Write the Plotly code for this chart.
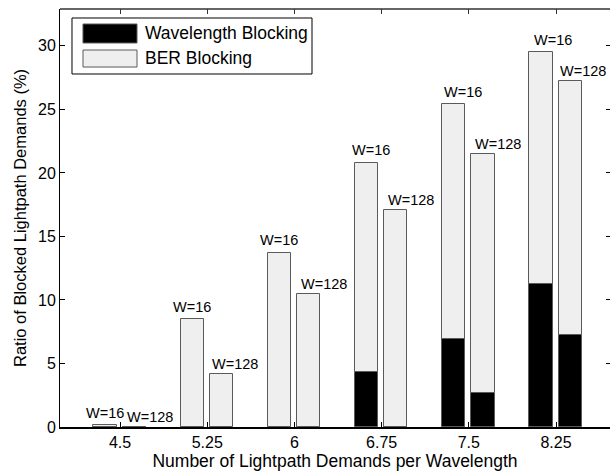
import plotly.graph_objects as go

# Demands per wavelength (x categories)
categories = ["4.5", "5.25", "6", "6.75", "7.5", "8.25"]

# Total blocking ratio (%) and the wavelength-blocking part, per W
total_w16 = [0.15, 8.48, 13.72, 20.8, 25.4, 29.5]
wl_w16 = [0.0, 0.0, 0.0, 4.33, 6.93, 11.24]
total_w128 = [0.0, 4.17, 10.45, 17.09, 21.52, 27.24]
wl_w128 = [0.0, 0.0, 0.0, 0.0, 2.65, 7.24]

series_names = ["Wavelength Blocking", "BER Blocking"]
bar_labels = ["W=16", "W=128"]

FONT = "Liberation Sans, Arial, Helvetica, sans-serif"
DARK = "#000000"
LIGHT = "#efefef"
EDGE = "#5a5a5a"

pos = list(range(1, len(categories) + 1))
BAR_W = 0.265
OFFSETS = [-0.305, 0.03]  # left edge of each bar relative to its category
X_RANGE = [0.312, 6.619]
Y_RANGE = [0, 32.9]
Y_TICKS = [0, 5, 10, 15, 20, 25, 30]

fig = go.Figure()

groups = [(total_w16, wl_w16), (total_w128, wl_w128)]
for k, (tot, wl) in enumerate(groups):
    ber = [t - w for t, w in zip(tot, wl)]
    fig.add_trace(go.Bar(
        x=pos, y=wl, base=[0] * len(wl), width=BAR_W, offset=OFFSETS[k],
        marker=dict(color=DARK, line=dict(color=EDGE, width=1)),
        name=series_names[0], showlegend=False,
    ))
    fig.add_trace(go.Bar(
        x=pos, y=ber, base=wl, width=BAR_W, offset=OFFSETS[k],
        marker=dict(color=LIGHT, line=dict(color=EDGE, width=1)),
        name=series_names[1], showlegend=False,
    ))

# empty trace so the top / right tick-only axes are rendered
fig.add_trace(go.Scatter(x=[None], y=[None], xaxis="x2", yaxis="y2",
                         showlegend=False, hoverinfo="skip"))

# "W=.." labels above each bar, left-aligned near the bar's left edge
label_xshift = [[-9, -10, -10, -5, 0, 3], [2, 0, 2, 2, 2, -1]]
label_yshift = [12.5, 10]
for k, (tot, _) in enumerate(groups):
    for i, t in enumerate(tot):
        fig.add_annotation(
            x=pos[i] + OFFSETS[k], y=t, xref="x", yref="y",
            text=bar_labels[k], showarrow=False, xanchor="left", yanchor="middle",
            xshift=label_xshift[k][i], yshift=label_yshift[k],
            font=dict(family=FONT, size=14.5, color="#000"),
        )

# top frame line
fig.add_shape(type="line", xref="x domain", yref="y domain",
              x0=0, x1=1, y0=1, y1=1, line=dict(color="#333", width=1.5))

# Hand-built legend box (wide swatches)
fig.add_shape(type="rect", xref="x domain", yref="y domain",
              x0=0.0218, x1=0.4582, y0=0.8445, y1=0.9785,
              line=dict(color="#000", width=1), fillcolor="#fff", layer="above")
sw = [(0.9187, 0.9641, DARK), (0.8612, 0.9019, LIGHT)]
for (y0, y1, c), name, ty in zip(sw, series_names, [0.9414, 0.8816]):
    fig.add_shape(type="rect", xref="x domain", yref="y domain",
                  x0=0.0418, x1=0.1400, y0=y0, y1=y1,
                  line=dict(color=EDGE, width=1), fillcolor=c, layer="above")
    fig.add_annotation(x=0.1509, y=ty, xref="x domain", yref="y domain",
                       text=name, showarrow=False, xanchor="left", yanchor="middle",
                       font=dict(family=FONT, size=17.5, color="#000"))

fig.update_layout(
    width=610, height=476,
    margin=dict(l=60, r=0, t=9, b=49),
    paper_bgcolor="#fff", plot_bgcolor="#fff",
    barmode="overlay", bargap=0,
    font=dict(family=FONT, size=16, color="#000"),
    showlegend=False,
    xaxis=dict(
        range=X_RANGE, tickvals=pos, ticktext=categories,
        ticks="inside", ticklen=5, tickcolor="#000",
        showline=True, linecolor="#000", linewidth=1.5, mirror=False,
        showgrid=False, zeroline=False,
        title=dict(text="Number of Lightpath Demands per Wavelength", standoff=5,
                   font=dict(size=17.5)),
        tickfont=dict(size=16),
    ),
    yaxis=dict(
        range=Y_RANGE, tickvals=Y_TICKS,
        ticks="inside", ticklen=5, tickcolor="#000",
        showline=True, linecolor="#000", linewidth=1, mirror=False,
        showgrid=False, zeroline=False,
        title=dict(text="Ratio of Blocked Lightpath Demands (%)", standoff=7,
                   font=dict(size=16.5)),
        tickfont=dict(size=16),
    ),
    # tick-only axes on the top and right
    xaxis2=dict(
        overlaying="x", side="top", range=X_RANGE, tickvals=pos,
        ticks="inside", ticklen=5, tickcolor="#333",
        showticklabels=False, showline=False, showgrid=False, zeroline=False,
    ),
    yaxis2=dict(
        overlaying="y", side="right", range=Y_RANGE, tickvals=Y_TICKS,
        ticks="inside", ticklen=4, tickcolor="#000",
        showticklabels=False, showline=False, showgrid=False, zeroline=False,
    ),
)

fig.write_html("out.html")
